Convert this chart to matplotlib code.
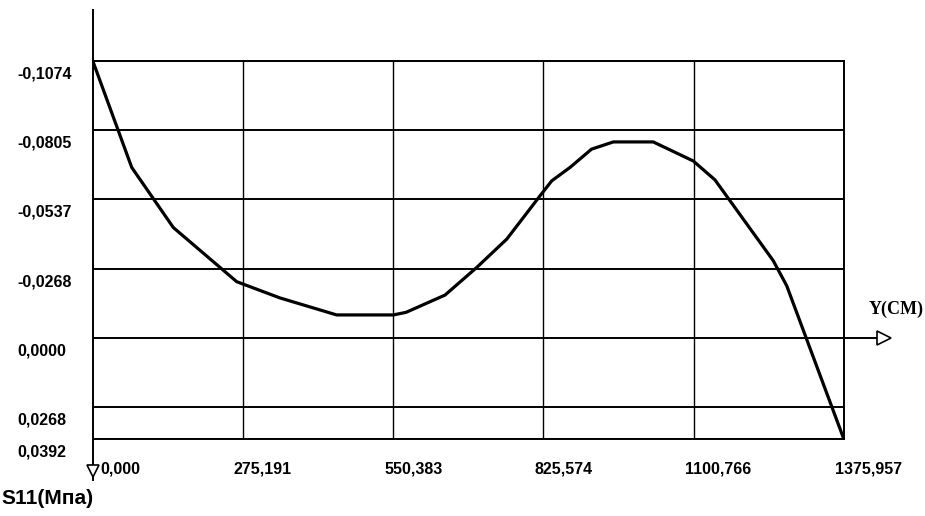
import matplotlib
matplotlib.use('Agg')
import matplotlib.pyplot as plt
import matplotlib.transforms as mtransforms

# stress S11 along Y (cm)
y_cm = [0, 71.5, 147.7, 263.8, 343, 447, 550.8, 574, 645.5, 703.5, 758.6,
        819.6, 841, 874.5, 914, 954, 1027, 1100.4, 1140, 1247, 1271.6, 1375.957]
s11 = [-0.1074, -0.0660, -0.0427, -0.0217, -0.0154, -0.0088, -0.0088, -0.0098,
       -0.0165, -0.0272, -0.0382, -0.0550, -0.0608, -0.0660, -0.0731, -0.0759,
       -0.0759, -0.0685, -0.0612, -0.0298, -0.0201, 0.0392]

xticks = [0, 275.191, 550.383, 825.574, 1100.766, 1375.957]
xlabels = ['0,000', '275,191', '550,383', '825,574', '1100,766', '1375,957']
yticks = [-0.1074, -0.0805, -0.0537, -0.0268, 0.0, 0.0268, 0.0392]
ylabels = ['-0,1074', '-0,0805', '-0,0537', '-0,0268', '0,0000', '0,0268', '0,0392']

fam = ['Liberation Sans', 'DejaVu Sans']
fs = 11.5

W, H = 925, 516
fig = plt.figure(figsize=(W / 100, H / 100), dpi=100)
ax = fig.add_axes([92.7 / W, 1 - 438.7 / H, (843.7 - 92.7) / W, (438.7 - 60.7) / H])
ax.set_xlim(0, 1375.957)
ax.set_ylim(0.0392, -0.1074)
ax.set_xticks([])
ax.set_yticks([])
for s in ['top', 'bottom', 'right']:
    ax.spines[s].set_linewidth(1.4)
ax.spines['left'].set_visible(False)

for v in yticks:
    ax.axhline(v, color='black', lw=1.4, zorder=1)
for v in xticks[1:]:
    ax.axvline(v, color='black', lw=1.0, zorder=1)

ax.plot(y_cm, s11, color='black', lw=2.3, zorder=3)

# axes with arrows
vx = mtransforms.blended_transform_factory(ax.transData, fig.transFigure)
ax.plot([0, 0], [1 - 10 / H, 1 - 480 / H], color='black', lw=1.4,
        transform=vx, clip_on=False)
ax.plot([0], [1 - 471 / H], marker='v', ms=9, mfc='white', mec='black', mew=1.2,
        transform=vx, clip_on=False)
hx = mtransforms.blended_transform_factory(fig.transFigure, ax.transData)
ax.plot([843.7 / W, 880 / W], [0, 0], color='black', lw=1.4,
        transform=hx, clip_on=False)
ax.plot([884 / W], [0], marker='>', ms=10, mfc='white', mec='black', mew=1.2,
        transform=hx, clip_on=False)

# tick labels
down = mtransforms.ScaledTranslation(0, -13 / 100, fig.dpi_scale_trans)
for v, lab in zip(yticks, ylabels):
    ax.text(17 / W, v, lab, transform=hx + down, ha='left', va='center',
            fontsize=fs, fontweight='bold', family=fam)
for i, (v, lab) in enumerate(zip(xticks, xlabels)):
    dx = 8 if i == 0 else -9
    sh = mtransforms.ScaledTranslation(dx / 100, 0, fig.dpi_scale_trans)
    ax.text(v, 1 - 469 / H, lab, transform=vx + sh, ha='left', va='center',
            fontsize=fs, fontweight='bold', family=fam)

fig.text(896 / W, 1 - 309 / H, 'Y(CM)', ha='center', va='center',
         fontsize=13, fontweight='bold', family='Liberation Serif')
fig.text(1 / W, 1 - 498 / H, 'S11(Мпа)', ha='left', va='center',
         fontsize=15, fontweight='bold', family=fam)

fig.savefig('out.png', dpi=100)
